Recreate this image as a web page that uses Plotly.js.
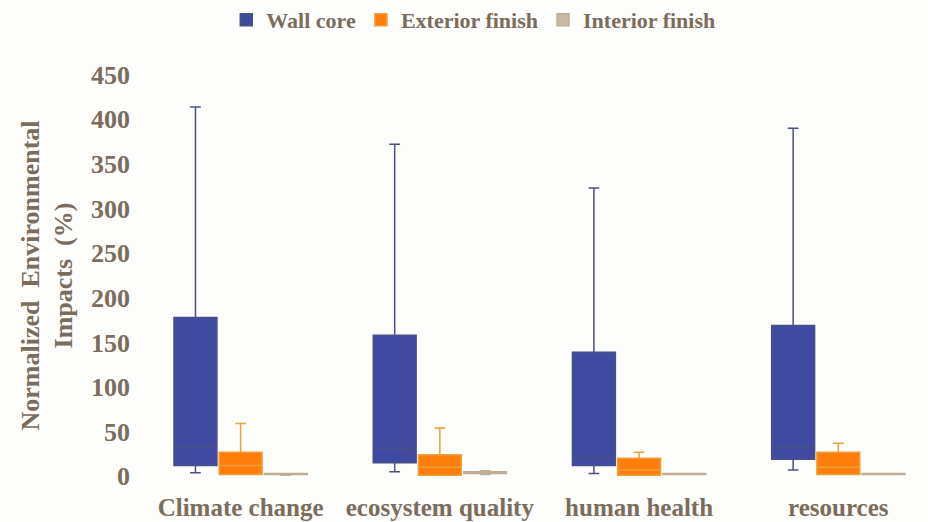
<!DOCTYPE html>
<html>
<head>
<meta charset="utf-8">
<script src="https://cdn.plot.ly/plotly-3.0.1.min.js"></script>
<style>html,body{margin:0;padding:0;background:#fdfdfb;}#chart{width:928px;height:522px;}</style>
</head>
<body>
<div id="chart"></div>
<script>
const categories = ["Climate change", "ecosystem quality", "human health", "resources"];

const wallLower  = [4, 5, 3, 7];
const wallQ1     = [12, 15, 12, 19];
const wallMedian = [33, 31, 21, 33];
const wallQ3     = [178, 158, 139, 169];
const wallUpper  = [414, 372, 323, 390];

const extLower  = [2, 1, 1, 2];
const extQ1     = [2, 1, 1, 2];
const extMedian = [12, 10, 7, 10];
const extQ3     = [27, 24, 20, 27];
const extUpper  = [59, 54, 27, 37];

const intLower  = [1, 2, 2, 2];
const intQ1     = [2, 3, 2, 2];
const intMedian = [2, 4, 3, 3];
const intQ3     = [3, 5, 3, 3];
const intUpper  = [3, 6, 3, 3];

const textColor = "#7b6c5c";
const fontFam = "Liberation Serif, Times New Roman, serif";

function boxTrace(name, lo, q1, med, q3, hi, fill, line) {
  return {
    type: "box", name: name, x: categories,
    lowerfence: lo, q1: q1, median: med, q3: q3, upperfence: hi,
    fillcolor: fill, line: {color: line, width: 1.5},
    whiskerwidth: 0.25, boxpoints: false, hoverinfo: "skip"
  };
}

const data = [
  boxTrace("Wall core", wallLower, wallQ1, wallMedian, wallQ3, wallUpper, "#3f4aa0", "#4a5088"),
  boxTrace("Exterior finish", extLower, extQ1, extMedian, extQ3, extUpper, "#ff7d0a", "#eda03a"),
  boxTrace("Interior finish", intLower, intQ1, intMedian, intQ3, intUpper, "#c6b9a6", "#bfae96")
];

const layout = {
  width: 928, height: 522,
  paper_bgcolor: "#fdfdfb", plot_bgcolor: "#fdfdfb",
  margin: {l: 141, r: 10, t: 73, b: 44, autoexpand: false},
  boxmode: "group", boxgap: 0.32, boxgroupgap: 0.05,
  font: {family: fontFam, color: textColor, size: 20, weight: "bold"},
  showlegend: true,
  legend: {orientation: "h", xref: "container", x: 0.51, xanchor: "center",
           yref: "container", y: 0.962, yanchor: "middle",
           font: {family: fontFam, size: 22, color: textColor, weight: "bold"},
           itemwidth: 30, tracegroupgap: 0},
  xaxis: {type: "category", range: [-0.5, 3.4], showgrid: false, zeroline: false, showline: false,
          automargin: false,
          tickfont: {family: fontFam, size: 25, color: textColor, weight: "bold"},
          ticks: "", ticklabelstandoff: 12},
  yaxis: {range: [-2, 452], tickvals: [0,50,100,150,200,250,300,350,400,450],
          showgrid: false, zeroline: false, showline: false, ticks: "", automargin: false,
          tickfont: {family: fontFam, size: 26, color: textColor, weight: "bold"},
          ticklabelstandoff: 10,
          title: {text: "Normalized  Environmental<br>Impacts  (%)", standoff: 10,
                  font: {family: fontFam, size: 26, color: textColor, weight: "bold"}}}
};

Plotly.newPlot("chart", data, layout, {displayModeBar: false, staticPlot: true});
</script>
</body>
</html>
